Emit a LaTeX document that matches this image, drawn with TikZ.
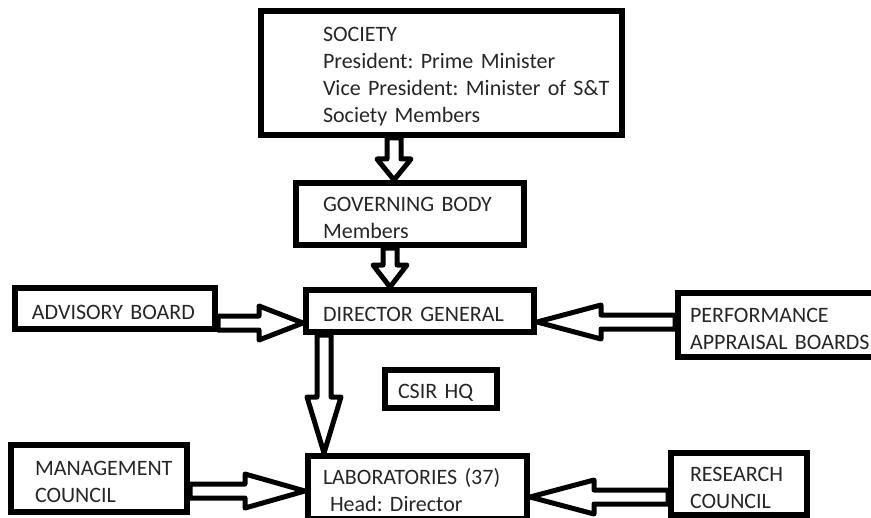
\documentclass[tikz,border=0pt]{standalone}
\usepackage{fontspec}
\setmainfont{Carlito}
\usetikzlibrary{calc}
\frenchspacing

\tikzset{
  box/.style={draw, line width=2.8pt, anchor=north west, align=left, inner xsep=0pt,
    text=black!85, font=\fontsize{11}{13.5}\selectfont,
    execute at begin node={\rule{0pt}{11pt}}},
  arrowline/.style={draw, line width=2.5pt, line join=round}
}

% hollow block arrow from #2 to #3, head length #1
\newcommand{\hollowarrow}[3][11pt]{%
  \draw[arrowline] let \p1=#2, \p2=#3, \n1={atan2(\y2-\y1,\x2-\x1)}, \n2={veclen(\x2-\x1,\y2-\y1)} in
    [shift={(\p1)}, rotate=\n1]
    (0pt,3.5pt) -- ({\n2*1pt-#1},3.5pt) -- ({\n2*1pt-#1},8.5pt) -- ({\n2*1pt},0pt)
    -- ({\n2*1pt-#1},-8.5pt) -- ({\n2*1pt-#1},-3.5pt) -- (0pt,-3.5pt) -- cycle;}

\begin{document}
\begin{tikzpicture}[x=0.5pt, y=-0.5pt]
\useasboundingbox (0,0) rectangle (871,518);
\node[box, minimum width=180.7pt, minimum height=62.2pt, text width=118.5pt] (soc) at (258,8)
  {SOCIETY\\\mbox{President: Prime Minister}\\\mbox{Vice President: Minister of S\&T}\\\mbox{Society Members}};
\node[box, minimum width=114.2pt, minimum height=27.2pt, text width=87pt] (gov) at (293,180)
  {\mbox{GOVERNING BODY}\\Members};
\node[box, minimum width=114.2pt, minimum height=21.2pt, text width=97pt] (dg) at (303,287)
  {\mbox{DIRECTOR GENERAL}};
\node[box, minimum width=100.2pt, minimum height=20.7pt, text width=83pt] (adv) at (12,285)
  {\mbox{ADVISORY BOARD}};
\node[box, minimum width=104.7pt, minimum height=32.2pt, text width=92.5pt] (perf) at (675,290)
  {PERFORMANCE\\\mbox{APPRAISAL BOARDS}};
\node[box, minimum width=56.2pt, minimum height=17.7pt, text width=43pt] (hq) at (382,367)
  {\mbox{CSIR HQ}};
\node[box, minimum width=88.2pt, minimum height=33.7pt, text width=64pt] (mgmt) at (8,442)
  {MANAGEMENT\\COUNCIL};
\node[box, minimum width=109.7pt, minimum height=28.2pt, text width=94.5pt] (labs) at (305,453)
  {\mbox{LABORATORIES (37)}\\\hspace*{3.5pt}\mbox{Head: Director}};
\node[box, minimum width=68.2pt, minimum height=29.7pt, text width=49pt] (res) at (668,450)
  {RESEARCH\\COUNCIL};

\hollowarrow[10.5pt]{(soc.south -| 394,0)}{(gov.north -| 394,0)}
\hollowarrow[11pt]{(gov.south -| 390,0)}{(dg.north -| 390,0)}
\hollowarrow[22pt]{(adv.east |- 0,323)}{(dg.west |- 0,323)}
\hollowarrow[32pt]{(perf.west |- 0,322)}{(dg.east |- 0,322)}
\hollowarrow[28pt]{(dg.south -| 324,0)}{(labs.north -| 324,0)}
\hollowarrow[30pt]{(mgmt.east |- 0,491)}{(labs.west |- 0,491)}
\hollowarrow[32pt]{(res.west |- 0,497)}{(labs.east |- 0,497)}

\end{tikzpicture}
\end{document}
